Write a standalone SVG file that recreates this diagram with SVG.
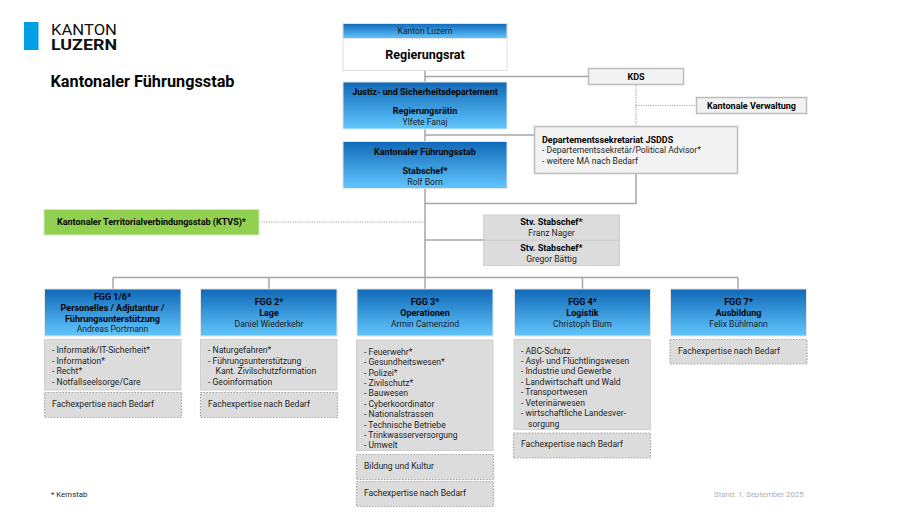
<svg xmlns="http://www.w3.org/2000/svg" width="910" height="512" viewBox="0 0 910 512">
<style>
text{font-family:Roboto,"Open Sans","Liberation Sans",sans-serif;font-size:8.600px;fill:#1f1f1f}
.b{font-size:9px;font-weight:700;fill:#050505}
.m{text-anchor:middle}
.blue{fill:url(#g);stroke:#e4e4e4;stroke-width:1}
.grey{fill:#dcdcdc;stroke:#d0d0d0;stroke-width:1}
.lite{fill:#f2f2f2;stroke:#bdbdbd;stroke-width:1.5}
.dash{fill:#dcdcdc;stroke:#a6a6a6;stroke-width:1.2;stroke-dasharray:1.5 1.5}
.c{fill:none;stroke:#a6a6a6;stroke-width:1.5}
.d{fill:none;stroke:#a6a6a6;stroke-width:1.2;stroke-dasharray:1.2 1.2}
</style>
<defs><linearGradient id="g" x1="0" y1="0" x2="0" y2="1"><stop offset="0" stop-color="#1068b8"/><stop offset="1" stop-color="#62c6fd"/></linearGradient></defs>
<rect width="910" height="512" fill="#fff"/>
<g id="logo"><rect x="24" y="22" width="14.500" height="28" fill="#009fe3"/>
<text x="51" y="34.500" style="font-size:15px;fill:#111" textLength="66" lengthAdjust="spacingAndGlyphs">KANTON</text>
<text x="51" y="50" class="b" style="font-size:15.500px;fill:#111" textLength="66" lengthAdjust="spacingAndGlyphs">LUZERN</text></g>
<text id="title" x="50.500" y="87" class="b" style="font-size:16px" textLength="184" lengthAdjust="spacingAndGlyphs">Kantonaler Führungsstab</text>
<g id="connectors">
<path class="c" d="M425 70V289M425 76.500H588M425 135H534M636 174V203.500H425M425 240H483M113 277.500H738M113 277.500V289M269 277.500V289M582.500 277.500V289M738 277.500V289"/>
<path class="d" d="M636 85V126M636 105.500H696M259 222H425"/>
</g>
<g id="regierungsrat"><rect x="343" y="23.500" width="164" height="47" fill="#fff" stroke="#e0e0e0"/><rect x="343" y="23.500" width="164" height="15" class="blue"/>
<text x="425" y="34" class="m">Kanton Luzern</text><text x="425" y="58.500" class="m b" style="font-size:12.500px">Regierungsrat</text></g>
<g id="jsd"><rect x="343" y="82" width="164" height="47" class="blue"/>
<text x="425" y="95" class="m b">Justiz- und Sicherheitsdepartement</text><text x="425" y="114" class="m b">Regierungsrätin</text><text x="425" y="125" class="m">Ylfete Fanaj</text></g>
<g id="kfs"><rect x="343" y="141.500" width="164" height="47" class="blue"/>
<text x="425" y="155" class="m b">Kantonaler Führungsstab</text><text x="425" y="174" class="m b">Stabschef*</text><text x="425" y="185" class="m">Rolf Born</text></g>
<g id="kds"><rect x="588.500" y="68.500" width="95" height="16" class="lite"/><text x="636" y="79.500" class="m b">KDS</text></g>
<g id="verwaltung"><rect x="696.500" y="97.500" width="110" height="16" class="lite"/><text x="751.500" y="108.500" class="m b">Kantonale Verwaltung</text></g>
<g id="sekretariat"><rect x="534.500" y="126.500" width="203" height="47" class="lite"/>
<text x="542" y="143" class="b">Departementssekretariat JSDDS</text><text x="542" y="153">- Departementssekretär/Political Advisor*</text><text x="542" y="164">- weitere MA nach Bedarf</text></g>
<g id="ktvs"><rect x="44" y="209.500" width="215" height="25.500" fill="#92d050" stroke="#d5e8c0"/><text x="151.500" y="225" class="m b">Kantonaler Territorialverbindungsstab (KTVS)*</text></g>
<g id="stv1"><rect x="483.500" y="215" width="136" height="25" class="grey"/><text x="551.500" y="225" class="m b">Stv. Stabschef*</text><text x="551.500" y="236" class="m">Franz Nager</text></g>
<g id="stv2"><rect x="483.500" y="240.500" width="136" height="25" class="grey"/><text x="551.500" y="250.500" class="m b">Stv. Stabschef*</text><text x="551.500" y="261.500" class="m">Gregor Bättig</text></g>
<g id="fgg1"><rect x="44.500" y="289" width="136.500" height="47" class="blue"/>
<text x="112.500" y="300" class="m b">FGG 1/6*</text><text x="112.500" y="311" class="m b">Personelles / Adjutantur /</text><text x="112.500" y="321.500" class="m b">Führungsunterstützung</text><text x="112.500" y="332" class="m">Andreas Portmann</text>
<rect x="44.500" y="339.500" width="136.500" height="50.500" class="grey"/>
<text x="52" y="353">- Informatik/IT-Sicherheit*</text><text x="52" y="363.500">- Information*</text><text x="52" y="374">- Recht*</text><text x="52" y="384.500">- Notfallseelsorge/Care</text>
<rect x="44.500" y="392.500" width="137" height="25" class="dash"/><text x="52" y="407">Fachexpertise nach Bedarf</text></g>
<g id="fgg2"><rect x="200.500" y="289" width="136.500" height="47" class="blue"/>
<text x="269" y="305" class="m b">FGG 2*</text><text x="269" y="316" class="m b">Lage</text><text x="269" y="326.500" class="m">Daniel Wiederkehr</text>
<rect x="200.500" y="339.500" width="136.500" height="50.500" class="grey"/>
<text x="208" y="353">- Naturgefahren*</text><text x="208" y="363.500">- Führungsunterstützung</text><text x="215.500" y="374">Kant. Zivilschutzformation</text><text x="208" y="384.500">- Geoinformation</text>
<rect x="200.500" y="392.500" width="137" height="25" class="dash"/><text x="208" y="407">Fachexpertise nach Bedarf</text></g>
<g id="fgg3"><rect x="357" y="289" width="136" height="47" class="blue"/>
<text x="425" y="305" class="m b">FGG 3*</text><text x="425" y="316" class="m b">Operationen</text><text x="425" y="326.500" class="m">Armin Camenzind</text>
<rect x="356.500" y="340" width="136.500" height="110.500" class="grey"/>
<text x="364" y="354.500">- Feuerwehr*</text><text x="364" y="365">- Gesundheitswesen*</text><text x="364" y="375.500">- Polizei*</text><text x="364" y="386">- Zivilschutz*</text><text x="364" y="396">- Bauwesen</text><text x="364" y="406.500">- Cyberkoordinator</text><text x="364" y="417">- Nationalstrassen</text><text x="364" y="427.500">- Technische Betriebe</text><text x="364" y="438">- Trinkwasserversorgung</text><text x="364" y="448">- Umwelt</text>
<rect x="356.500" y="454.500" width="137" height="25" class="dash"/><text x="364" y="468.500">Bildung und Kultur</text>
<rect x="356.500" y="481.500" width="137" height="25" class="dash"/><text x="364" y="496">Fachexpertise nach Bedarf</text></g>
<g id="fgg4"><rect x="514.500" y="289" width="136" height="47" class="blue"/>
<text x="582.500" y="305" class="m b">FGG 4*</text><text x="582.500" y="316" class="m b">Logistik</text><text x="582.500" y="326.500" class="m">Christoph Blum</text>
<rect x="514" y="339.500" width="136.500" height="90" class="grey"/>
<text x="521" y="353.500">- ABC-Schutz</text><text x="521" y="364">- Asyl- und Flüchtlingswesen</text><text x="521" y="374">- Industrie und Gewerbe</text><text x="521" y="384.500">- Landwirtschaft und Wald</text><text x="521" y="395">- Transportwesen</text><text x="521" y="405.500">- Veterinärwesen</text><text x="521" y="416">- wirtschaftliche Landesver-</text><text x="528" y="426.500">sorgung</text>
<rect x="513.500" y="433" width="137" height="25" class="dash"/><text x="521" y="447">Fachexpertise nach Bedarf</text></g>
<g id="fgg7"><rect x="670.500" y="289" width="136" height="47" class="blue"/>
<text x="738.500" y="305" class="m b">FGG 7*</text><text x="738.500" y="316" class="m b">Ausbildung</text><text x="738.500" y="326.500" class="m">Felix Bühlmann</text>
<rect x="670" y="339.500" width="137" height="24.500" class="dash"/><text x="678" y="353.500">Fachexpertise nach Bedarf</text></g>
<text id="kernstab" x="51" y="497" style="font-size:7.800px">* Kernstab</text>
<text id="stand" x="714" y="497" style="font-size:7.800px;fill:#b0b0b0">Stand: 1. September 2025</text>
</svg>
